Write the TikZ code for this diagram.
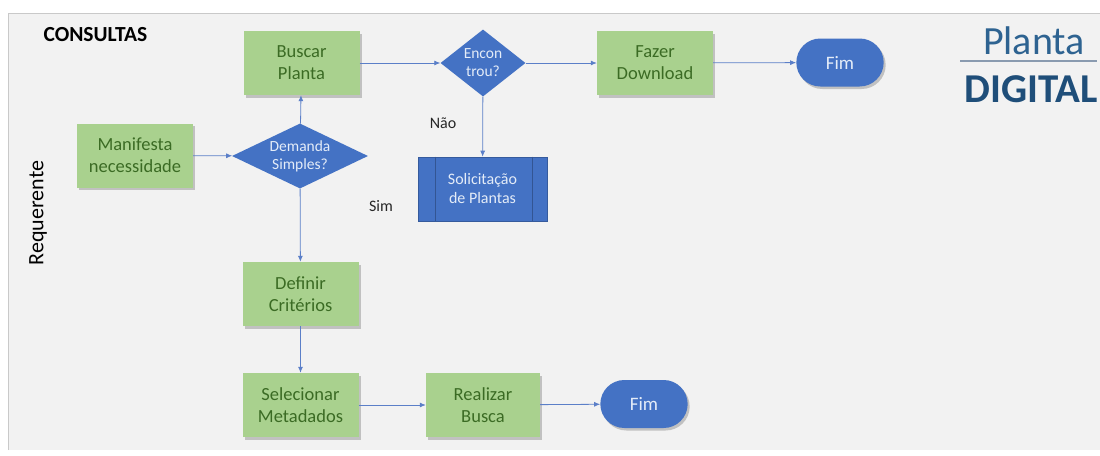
\documentclass[tikz,border=0pt]{standalone}
\usepackage{fontspec}
\setmainfont{Carlito}
\usetikzlibrary{shapes.geometric,shapes.misc,arrows.meta,shadows,calc}

\definecolor{panel}{HTML}{F2F2F2}
\definecolor{panelline}{HTML}{C9C9C9}
\definecolor{boxgreen}{HTML}{A9D18E}
\definecolor{textgreen}{HTML}{3B6B24}
\definecolor{boxblue}{HTML}{4472C4}
\definecolor{edgeblue}{HTML}{5B7FC8}
\definecolor{lighttext}{HTML}{E4ECF8}
\definecolor{logolight}{HTML}{2E6391}
\definecolor{logodark}{HTML}{1F4E79}
\definecolor{logorule}{HTML}{8A9BB0}

\tikzset{
  x=1pt, y=-1pt,
  shade/.style={drop shadow={shadow xshift=2pt, shadow yshift=-2.5pt, opacity=0.35, fill=black!60}},
  task/.style={rectangle, fill=boxgreen, draw=none, text=textgreen, align=center,
    minimum width=116pt, minimum height=64pt, inner sep=2pt, shade,
    font=\fontsize{18.5}{22}\selectfont},
  decision/.style={diamond, fill=boxblue, draw=none, text=lighttext, align=center,
    inner sep=0pt, font=\fontsize{15.5}{18}\selectfont},
  terminal/.style={rounded rectangle, fill=boxblue, draw=none, text=lighttext,
    minimum width=94pt, minimum height=48pt, shade,
    font=\fontsize{19}{22}\selectfont},
  subproc/.style={rectangle, fill=boxblue, draw=boxblue!80!black, line width=0.6pt,
    text=lighttext, align=center, minimum width=129pt, minimum height=64pt,
    font=\fontsize{16}{19}\selectfont},
  flow/.style={draw=edgeblue, line width=0.8pt, -{Latex[length=6pt,width=5pt]}},
  plain/.style={text=black!85, font=\fontsize{16}{19}\selectfont},
}

\begin{document}
\begin{tikzpicture}
  % page and grey panel
  \useasboundingbox (0,0) rectangle (1100,455);
  \fill[white] (0,0) rectangle (1100,455);
  \fill[panel] (8,13) rectangle (1100,450);
  \draw[panelline, line width=1pt] (8,450) -- (8,13) -- (1100,13);

  % headings
  \node[anchor=west, font=\bfseries\fontsize{21.5}{25}\selectfont, text=black] (title) at (40,35) {CONSULTAS};
  \node[rotate=90, font=\fontsize{22}{26}\selectfont, text=black] (lane) at (38,213) {Requerente};

  % logo
  \node[text=logolight, font=\fontsize{40}{44}\selectfont] (logoa) at (1034,41) {Planta};
  \coordinate (rulea) at (960,61);
  \coordinate (ruleb) at (1097,61);
  \draw[logorule, line width=2pt] (rulea) -- (ruleb);
  \node[anchor=west, text=logodark, font=\bfseries\fontsize{41}{44}\selectfont] (logob) at (961,89) {DIGITAL};

  % process nodes
  \node[task] (manif) at (135,155.5) {Manifesta\\necessidade};
  \node[decision, aspect=2.1, minimum width=136pt, minimum height=65pt] (demanda) at (300,156) {Demanda\\Simples?};
  \node[task] (buscar) at (301.5,63) {Buscar\\Planta};
  \node[decision, aspect=1.27, minimum width=85pt, minimum height=67pt] (encontrou) at (483,63) {Encon\\trou?};
  \node[task] (download) at (655,63) {Fazer\\Download};
  \node[terminal] (fimA) at (840,62.5) {Fim};
  \node[subproc] (solic) at (482.5,189) {Solicitação\\de Plantas};
  \draw[boxblue!75!black, line width=0.8pt]
    ($(solic.north west)+(18,0)$) -- ($(solic.south west)+(18,0)$)
    ($(solic.north east)+(-15,0)$) -- ($(solic.south east)+(-15,0)$);
  \node[task] (definir) at (300.5,294) {Definir\\Critérios};
  \node[task] (selec) at (300.5,405) {Selecionar\\Metadados};
  \node[task, minimum width=114pt] (realizar) at (483,405) {Realizar\\Busca};
  \node[terminal] (fimB) at (644,404) {Fim};

  % branch labels
  \node[plain] (nao) at (443,123) {Não};
  \node[plain] (sim) at (381,206) {Sim};

  % connectors
  \draw[flow] (manif) -- (demanda);
  \draw[flow] (demanda) -- (buscar);
  \draw[flow] (demanda) -- (definir);
  \draw[flow] (buscar) -- (encontrou);
  \draw[flow] (encontrou) -- (download);
  \draw[flow] (encontrou) -- (solic);
  \draw[flow] (download) -- (fimA);
  \draw[flow] (definir) -- (selec);
  \draw[flow] (selec) -- (realizar);
  \draw[flow] (realizar) -- (fimB);
\end{tikzpicture}
\end{document}
